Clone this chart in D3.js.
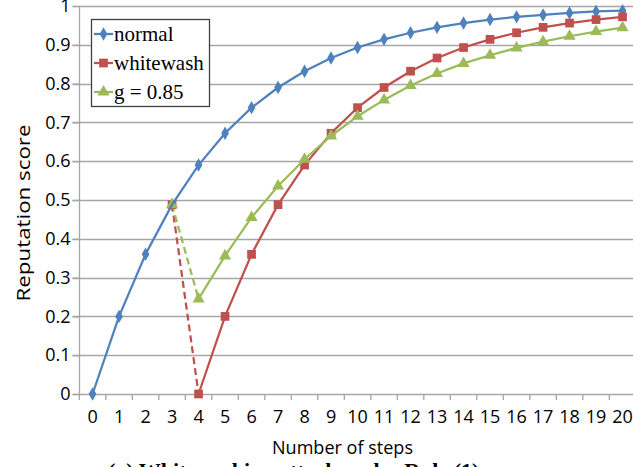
<!DOCTYPE html>
<html>
<head>
<meta charset="utf-8">
<script src="https://cdn.jsdelivr.net/npm/d3@7/dist/d3.min.js"></script>
<style>
html,body{margin:0;padding:0;background:#fff;}
svg{display:block;}
</style>
</head>
<body>
<svg id="chart" width="633" height="467"></svg>
<script>
// ---- data ----
const steps = d3.range(0, 21);
const xTickLabels = steps.map(String);
const yTicks = [0, 0.1, 0.2, 0.3, 0.4, 0.5, 0.6, 0.7, 0.8, 0.9, 1];
const normalX = [0,1,2,3,4,5,6,7,8,9,10,11,12,13,14,15,16,17,18,19,20];
const normalY = [0,0.2,0.36,0.488,0.59,0.672,0.738,0.79,0.832,0.866,0.893,0.914,0.931,0.945,0.956,0.965,0.972,0.977,0.982,0.986,0.988];
const whiteX = [3,4,5,6,7,8,9,10,11,12,13,14,15,16,17,18,19,20];
const whiteY = [0.488,0,0.2,0.36,0.488,0.59,0.672,0.738,0.79,0.832,0.866,0.893,0.914,0.931,0.945,0.956,0.965,0.972];
const gX = [3,4,5,6,7,8,9,10,11,12,13,14,15,16,17,18,19,20];
const gY = [0.488,0.245,0.356,0.455,0.536,0.605,0.665,0.716,0.758,0.795,0.826,0.852,0.873,0.892,0.908,0.922,0.934,0.944];
const seriesNames = ["normal", "whitewash", "g = 0.85"];
const xTitle = "Number of steps";
const yTitle = "Reputation score";
const caption = "(a) Whitewashing attack under Rule (1)";

// ---- layout ----
const svg = d3.select("#chart");
const colors = {normal:"#4F81BD", white:"#C0504D", g:"#9BBB59"};
const x = d3.scaleBand().domain(steps).range([79.3, 79.3 + 26.5*21]);
const xc = v => x(v) + x.bandwidth()/2;
const y = d3.scaleLinear().domain([0, 1]).range([394, 6]);
const plotRight = 633;
const fontSans = "'Open Sans', 'Noto Sans', sans-serif";

// gridlines
svg.append("g").selectAll("line").data(yTicks.filter(d => d > 0)).join("line")
  .attr("x1", 72.5).attr("x2", plotRight)
  .attr("y1", d => Math.round(y(d)) + 0.5).attr("y2", d => Math.round(y(d)) + 0.5)
  .attr("stroke", "#a6a6a6").attr("stroke-width", 1.3);

// y axis
const yAxis = svg.append("g").attr("transform", "translate(79.5,0)")
  .call(d3.axisLeft(y).tickValues(yTicks).tickSize(7).tickPadding(6)
    .tickFormat(d => d3.format("~g")(d)));
yAxis.select(".domain").attr("stroke", "#a6a6a6").attr("stroke-width", 1.3).attr("d", `M0,${y(1)}V${y(0)}`);
yAxis.selectAll(".tick line").attr("stroke", "#a6a6a6").attr("stroke-width", 1.3);
yAxis.selectAll(".tick text").attr("font-family", fontSans).attr("font-size", 18).attr("fill", "#000").attr("x", -9);

// x axis
const xAxisG = svg.append("g").attr("transform", `translate(0,${y(0)})`);
xAxisG.append("line").attr("x1", 72.5).attr("x2", plotRight).attr("y1", 0.5).attr("y2", 0.5)
  .attr("stroke", "#a6a6a6").attr("stroke-width", 1.3);
const boundaries = d3.range(0, 22).map(i => 79.3 + 26.5*i);
xAxisG.selectAll("line.tk").data(boundaries).join("line").attr("class","tk")
  .attr("x1", d => d).attr("x2", d => d).attr("y1", 0).attr("y2", 6)
  .attr("stroke", "#a6a6a6").attr("stroke-width", 1.3);
xAxisG.selectAll("text").data(steps).join("text")
  .attr("x", d => xc(d)).attr("y", 29)
  .attr("text-anchor", "middle").attr("font-family", fontSans).attr("font-size", 18)
  .text((d, i) => xTickLabels[i]);

// axis titles
svg.append("text").attr("x", 342.5).attr("y", 454).attr("text-anchor", "middle")
  .attr("font-family", fontSans).attr("font-size", 18)
  .attr("textLength", 141).attr("lengthAdjust", "spacingAndGlyphs").text(xTitle);
svg.append("text").attr("transform", "translate(30,213) rotate(-90)").attr("text-anchor", "middle")
  .attr("font-family", fontSans).attr("font-size", 19)
  .attr("textLength", 177).attr("lengthAdjust", "spacingAndGlyphs").text(yTitle);

// caption (cut by the bottom edge)
svg.append("text").attr("x", 108).attr("y", 478)
  .attr("font-family", "'Liberation Serif', serif").attr("font-weight", "bold").attr("font-size", 22)
  .text(caption);

// ---- series ----
const line = d3.line().x(d => xc(d[0])).y(d => y(d[1]));
const zip = (a, b) => a.map((v, i) => [v, b[i]]);
const normalPts = zip(normalX, normalY);
const whitePts = zip(whiteX, whiteY);
const gPts = zip(gX, gY);

const diamond = d3.symbol().type(d3.symbolDiamond).size(52);
const square = d3.symbol().type(d3.symbolSquare).size(76);
const tri = d3.symbol().type(d3.symbolTriangle).size(64);

function drawMarkers(pts, sym, color) {
  svg.append("g").selectAll("path").data(pts).join("path")
    .attr("transform", d => `translate(${xc(d[0])},${y(d[1])})`)
    .attr("d", sym).attr("fill", color);
}

// dashed drops
svg.append("path").attr("d", line(whitePts.slice(0, 2))).attr("fill", "none")
  .attr("stroke", colors.white).attr("stroke-width", 2.25).attr("stroke-dasharray", "7,4");
svg.append("path").attr("d", line(gPts.slice(0, 2))).attr("fill", "none")
  .attr("stroke", colors.g).attr("stroke-width", 2.25).attr("stroke-dasharray", "7,4");

drawMarkers(normalPts, diamond, colors.normal);
drawMarkers(whitePts.slice(0,1), square, colors.white);
drawMarkers(gPts.slice(0,1), tri, colors.g);

svg.append("path").attr("d", line(normalPts)).attr("fill", "none")
  .attr("stroke", colors.normal).attr("stroke-width", 2.25);

svg.append("path").attr("d", line(whitePts.slice(1))).attr("fill", "none")
  .attr("stroke", colors.white).attr("stroke-width", 2.25);
drawMarkers(whitePts.slice(1), square, colors.white);

svg.append("path").attr("d", line(gPts.slice(1))).attr("fill", "none")
  .attr("stroke", colors.g).attr("stroke-width", 2.25);
drawMarkers(gPts.slice(1), tri, colors.g);

// ---- legend ----
const lg = svg.append("g");
lg.append("rect").attr("x", 91.5).attr("y", 19.5).attr("width", 118).attr("height", 87)
  .attr("fill", "#fff").attr("stroke", "#404040").attr("stroke-width", 1.3);
const legendItems = [
  {name: seriesNames[0], color: colors.normal, sym: diamond},
  {name: seriesNames[1], color: colors.white, sym: square},
  {name: seriesNames[2], color: colors.g, sym: tri}
];
legendItems.forEach((it, i) => {
  const cy = 34 + i * 29;
  lg.append("line").attr("x1", 94).attr("x2", 113).attr("y1", cy).attr("y2", cy)
    .attr("stroke", it.color).attr("stroke-width", 2.25);
  lg.append("path").attr("transform", `translate(103.5,${cy})`).attr("d", it.sym).attr("fill", it.color);
  lg.append("text").attr("x", 114).attr("y", cy + 7)
    .attr("font-family", "'Liberation Serif', 'Times New Roman', serif").attr("font-size", 21)
    .text(it.name);
});
</script>
</body>
</html>
